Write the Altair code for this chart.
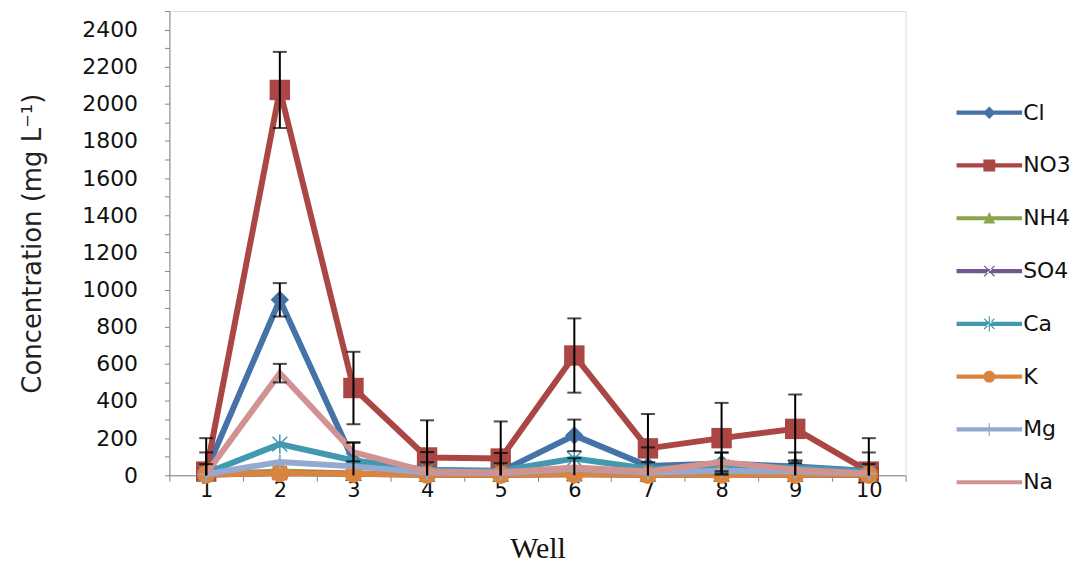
import altair as alt
import pandas as pd

wells = [1, 2, 3, 4, 5, 6, 7, 8, 9, 10]
series_names = ["Cl", "NO3", "NH4", "SO4", "Ca", "K", "Mg", "Na"]
colors = ["#4572A7", "#AA4643", "#89A54E", "#71588F", "#4198AF", "#DB843D", "#93A9CF", "#D19392"]

Cl = [23, 945, 78, 25, 20, 215, 50, 63, 48, 23]
NO3 = [20, 2075, 470, 96, 90, 645, 145, 200, 250, 20]
NH4 = [5, 20, 10, 4, 4, 8, 4, 5, 4, 3]
SO4 = [3, 12, 8, 3, 3, 6, 3, 4, 3, 2]
Ca = [12, 168, 80, 30, 25, 90, 35, 45, 42, 22]
K = [4, 12, 8, 3, 3, 5, 3, 4, 3, 3]
Mg = [6, 72, 48, 15, 12, 35, 15, 25, 20, 10]
Na = [10, 550, 125, 20, 15, 42, 20, 72, 30, 10]

Cl_err = [100, 90, 100, 100, 100, 85, 100, 60, 75, 100]
NO3_err = [180, 205, 195, 200, 200, 200, 185, 190, 185, 180]
Na_err = [50, 50, 50, 50, 50, 50, 50, 50, 50, 50]

values = {"Cl": Cl, "NO3": NO3, "NH4": NH4, "SO4": SO4, "Ca": Ca, "K": K, "Mg": Mg, "Na": Na}
errors = {"Cl": Cl_err, "NO3": NO3_err, "Na": Na_err}

rows = []
for s in series_names:
    for w, v in zip(wells, values[s]):
        rows.append({"series": s, "well": w, "value": v})
df = pd.DataFrame(rows)

err_rows = []
for s, errs in errors.items():
    for w, v, e in zip(wells, values[s], errs):
        lo = v - e
        err_rows.append({"series": s, "well": w, "hi": v + e, "lo": max(lo, 0), "lo_cap": bool(lo >= 0)})
err_df = pd.DataFrame(err_rows)

AX_GRAY = "#868686"
x_vals = [i / 2 for i in range(1, 22)]
y_vals = list(range(0, 2600, 100))

x_axis = alt.Axis(
    values=x_vals, labelOverlap=False, labelFlush=False,
    labelExpr="(datum.value % 1 === 0) ? ('' + datum.value) : ''",
    tickColor={"condition": {"test": "datum.value % 1 === 0", "value": "transparent"}, "value": AX_GRAY},
    tickSize=6, domainColor=AX_GRAY, grid=False,
    labelFont="DejaVu Sans", labelFontSize=21, labelColor="#111", labelPadding=-2,
    titleFont="Liberation Serif", titleFontSize=30, titleFontWeight="normal", titleColor="#111",
    titleY=83, titleBaseline="alphabetic",
)
y_axis = alt.Axis(
    values=y_vals, format="d", labelOverlap=False,
    labelExpr="datum.value % 200 === 0 && datum.value <= 2400 ? format(datum.value, 'd') : ''",
    tickSize=5, tickColor=AX_GRAY, domainColor=AX_GRAY, grid=False,
    labelFont="DejaVu Sans", labelFontSize=22, labelColor="#111", labelPadding=27,
    titleFont="DejaVu Sans", titleFontSize=26, titleFontWeight="normal", titleColor="#222",
    titleX=-137, titleY=233, titleAngle=270, titleAlign="center", titleBaseline="middle",
)
x_scale = alt.Scale(domain=[0.5, 10.5], nice=False, zero=False)
y_scale = alt.Scale(domain=[0, 2500], nice=False)
X_TITLE = "Well"
Y_TITLE = "Concentration (mg L⁻¹)"


def xe(field="well"):
    return alt.X(f"{field}:Q", scale=x_scale, axis=x_axis, title=X_TITLE)


def ye(field="value"):
    return alt.Y(f"{field}:Q", scale=y_scale, axis=y_axis, title=Y_TITLE)


markers = {
    "Cl": dict(shape="diamond", filled=True, size=340),
    "NO3": dict(shape="square", filled=True, size=420),
    "NH4": dict(shape="triangle-up", filled=True, size=300),
    "SO4": dict(shape="M-1,-1L1,1M1,-1L-1,1", filled=False, size=200, strokeWidth=1.5),
    "Ca": dict(shape="M-1,-1L1,1M1,-1L-1,1M0,-1.3L0,1.3", filled=False, size=220, strokeWidth=1.5),
    "K": dict(shape="circle", filled=True, size=340),
    "Mg": dict(shape="M0,-1L0,1M-1,0L1,0", filled=False, size=220, strokeWidth=2),
}

layers = []
for s, c in zip(series_names, colors):
    sub = alt.Chart(df).transform_filter(alt.datum.series == s)
    layers.append(sub.mark_line(color=c, strokeWidth=6, strokeJoin="miter").encode(x=xe(), y=ye()))
    if s in markers:
        m = markers[s]
        layers.append(sub.mark_point(color=c, opacity=1, **m).encode(x=xe(), y=ye()))

err = alt.Chart(err_df)
layers.append(err.mark_rule(color="black", strokeWidth=2).encode(
    x=xe(), y=ye("lo"), y2=alt.Y2("hi:Q")))
layers.append(err.mark_tick(color="black", thickness=2, size=14, orient="horizontal").encode(
    x=xe(), y=ye("hi")))
layers.append(err.transform_filter("datum.lo_cap").mark_tick(color="black", thickness=2, size=14, orient="horizontal").encode(
    x=xe(), y=ye("lo")))

line_part = "M-4.7,-0.3H4.7V0.3H-4.7Z"
legend_paths = [
    line_part + "M0,-0.9L0.9,0L0,0.9L-0.9,0Z",
    line_part + "M-0.85,-0.85H0.85V0.85H-0.85Z",
    line_part + "M0,-0.9L0.85,0.75H-0.85Z",
    line_part + "M-0.8,-0.68L-0.68,-0.8L0.8,0.68L0.68,0.8Z M0.8,-0.68L0.68,-0.8L-0.8,0.68L-0.68,0.8Z",
    line_part + "M-0.8,-0.68L-0.68,-0.8L0.8,0.68L0.68,0.8Z M0.8,-0.68L0.68,-0.8L-0.8,0.68L-0.68,0.8Z M-0.08,-1.1H0.08V1.1H-0.08Z",
    line_part + "M0.85,0A0.85,0.85,0,1,1,-0.85,0A0.85,0.85,0,1,1,0.85,0Z",
    line_part + "M-0.09,-0.9H0.09V0.9H-0.09Z",
    line_part,
]

leg = alt.Legend(
    title=None, orient="none", legendX=812, legendY=91,
    symbolSize=196, symbolStrokeWidth=0, symbolOpacity=1,
    labelFont="DejaVu Sans", labelFontSize=22, labelColor="#111",
    rowPadding=31, labelOffset=23,
)
legend_layer = alt.Chart(df).transform_filter("false").mark_point(filled=True, opacity=1, size=196).encode(
    x=xe(), y=ye(),
    color=alt.Color("series:N", scale=alt.Scale(domain=series_names, range=colors), legend=leg),
    shape=alt.Shape("series:N", scale=alt.Scale(domain=series_names, range=legend_paths), legend=leg),
)
layers.append(legend_layer)

chart = alt.layer(*layers).properties(
    width=739, height=466,
    padding={"left": 162, "top": 2, "right": 170, "bottom": 90},
    autosize=alt.AutoSizeParams(type="none"),
).configure_view(stroke=None).configure(background="white")

chart.save("out.html", embed_options={"renderer": "svg", "actions": False})
